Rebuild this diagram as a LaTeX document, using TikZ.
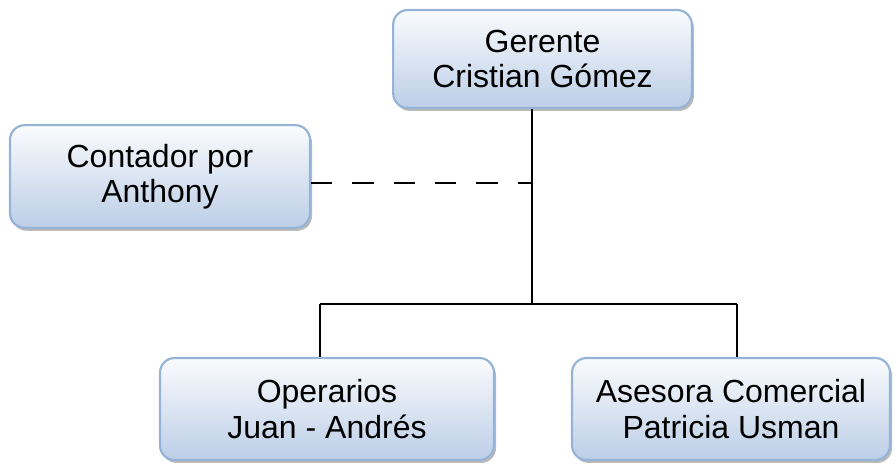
\documentclass[tikz,border=0pt]{standalone}
\usepackage{fontspec}
\setmainfont{Liberation Sans}
\usetikzlibrary{shadows}
\definecolor{bordeazul}{RGB}{149,179,215}
\definecolor{azularriba}{RGB}{250,251,253}
\definecolor{azulabajo}{RGB}{188,206,231}

\begin{document}
\begin{tikzpicture}[x=0.75pt, y=-0.75pt,
        puesto/.style={
            rectangle, rounded corners=11pt, draw = bordeazul, line width=1.6pt,
            top color = azularriba, bottom color = azulabajo, align=center, inner sep=0pt,
            font = \fontsize{24}{26.5}\selectfont,
            drop shadow={shadow xshift=1.5pt, shadow yshift=-2.2pt, fill=black!50, opacity=0.55}
        },
        enlace/.style={
            draw = black, line width=1.3pt
        },
    ]
        \useasboundingbox (0,0) rectangle (895,468);

        \node (gerente) [puesto, minimum width=224pt, minimum height=73.5pt] at (542.5,59) {Gerente\\Cristian Gómez};
        \node (contador) [puesto, minimum width=225pt, minimum height=77pt] at (160,176.5) {Contador por\\Anthony};
        \node (operarios) [puesto, minimum width=250.5pt, minimum height=76.5pt] at (327,409) {Operarios\\Juan - Andrés};
        \node (asesora) [puesto, minimum width=238.5pt, minimum height=76.5pt] at (731,409) {Asesora Comercial\\Patricia Usman};

        \coordinate (tronco) at (532,183);
        \coordinate (rama) at (532,304);
        \coordinate (ramaIzq) at (320,304);
        \coordinate (ramaDer) at (737,304);

        \draw[enlace] (tronco |- gerente.south) -- (rama);
        \draw[enlace, dash pattern=on 16pt off 15pt] (contador.east |- tronco) -- (tronco);
        \draw[enlace] (ramaIzq) -- (ramaDer);
        \draw[enlace] (ramaIzq) -- (ramaIzq |- operarios.north);
        \draw[enlace] (ramaDer) -- (ramaDer |- asesora.north);

    \end{tikzpicture}
\end{document}
